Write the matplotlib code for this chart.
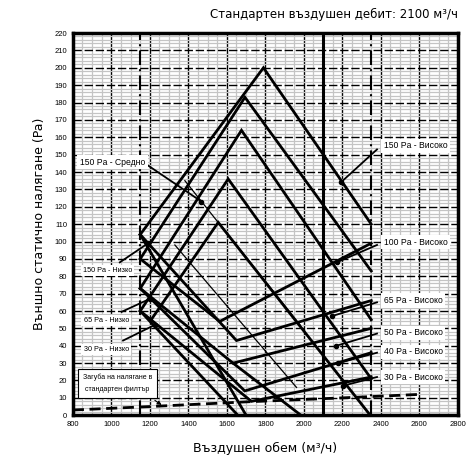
import matplotlib.pyplot as plt
from matplotlib import font_manager
from matplotlib.ticker import MultipleLocator

# airflow limits and standard airflow (m3/h)
X_MIN_FLOW = 1150
X_MAX_FLOW = 2350
X_STD_FLOW = 2100

# upper edges of the ranges (airflow, pressure)
UP_150_X = [1150, 1790, 2350]
UP_150_Y = [104, 200, 110]
UP_100_X = [1150, 1694, 2350]
UP_100_Y = [90, 183, 83]
UP_65_X = [1150, 1676, 2350]
UP_65_Y = [73, 164, 55]
UP_50_X = [1150, 1607, 2350]
UP_50_Y = [60, 136, 21]
UP_40_X = [1207, 1555, 2345]
UP_40_Y = [55, 111, 0]

# lower edges of the ranges
LOW_A_X = [1150, 1563, 2350]
LOW_A_Y = [90, 54, 99]
LOW_B_X = [1150, 1650, 2350]
LOW_B_Y = [104, 43, 66]
LOW_C_X = [1150, 1632, 2350]
LOW_C_Y = [73, 30, 50]
LOW_C2_X = [1632, 1985]
LOW_C2_Y = [30, 0]
LOW_D_X = [1150, 1693, 2350]
LOW_D_Y = [73, 14, 36]
LOW_E_X = [1150, 1728, 2350]
LOW_E_Y = [60, 8, 22]

# low tap fan curves
FAN_150_LOW_X = [1150, 1700]
FAN_150_LOW_Y = [104, 0]
FAN_30_LOW_X = [1150, 1657]
FAN_30_LOW_Y = [60, 0]

# medium tap (thin lines)
MED_1_X = [1382, 1980]
MED_1_Y = [135, 52]
MED_2_X = [1330, 1962]
MED_2_Y = [98, 16]

# pressure loss of the standard filter
FILTER_X = [800, 1200, 1700, 2200, 2600]
FILTER_Y = [3, 5, 7.7, 10, 12]

# labels: text, text position, pointer start, pointer dot
LABELS_HIGH = [
    ("150 Pa - Високо", (2415, 155), (2380, 153), (2192, 134)),
    ("100 Pa - Високо", (2415, 99.5), (2380, 98), (2171, 88)),
    ("65 Pa - Високо", (2415, 66), (2380, 65), (2144, 57)),
    ("50 Pa - Високо", (2415, 47.5), (2380, 47), (2169, 40)),
    ("40 Pa - Високо", (2415, 36.5), (2380, 36), (2178, 30)),
    ("30 Pa - Високо", (2415, 22), (2380, 22), (2204, 17)),
]
LABELS_LOW = [
    ("150 Pa - Низко", (852, 83.5), (1044, 88), (1191, 99)),
    ("65 Pa - Низко", (856, 54.7), (1053, 59.5), (1200, 67)),
    ("30 Pa - Низко", (856, 38), (1061, 43), (1226, 52)),
]
LABEL_MED = ("150 Pa - Средно", (836, 145.7), (1174, 145), (1468, 123))

names = {f.name for f in font_manager.fontManager.ttflist}
NARROW = 'Liberation Sans Narrow' if 'Liberation Sans Narrow' in names \
    else 'Liberation Sans'

fig = plt.figure(figsize=(4.73, 4.65), dpi=100)
ax = fig.add_axes([0.154, 0.107, 0.814, 0.822])

ax.set_xlim(800, 2800)
ax.set_ylim(0, 220)
ax.xaxis.set_major_locator(MultipleLocator(200))
ax.xaxis.set_minor_locator(MultipleLocator(50))
ax.yaxis.set_major_locator(MultipleLocator(10))
ax.yaxis.set_minor_locator(MultipleLocator(2))
ax.grid(which='minor', color='#c4c4c4', lw=0.9)
ax.grid(which='major', axis='x', color='black', lw=1.0)
ax.grid(which='major', axis='y', color='black', lw=1.0,
        linestyle=(0, (6, 2)))
ax.set_axisbelow(True)
ax.tick_params(which='both', length=0, labelsize=5.5, pad=4)
for lab in ax.get_xticklabels() + ax.get_yticklabels():
    lab.set_family(NARROW)
for s in ax.spines.values():
    s.set_linewidth(2.5)

ax.axvline(X_MIN_FLOW, color='black', lw=1.5, linestyle=(0, (7, 2, 1, 2)))
ax.axvline(X_MAX_FLOW, color='black', lw=1.5, linestyle=(0, (7, 2, 1, 2)))
ax.axvline(X_STD_FLOW, color='black', lw=2.2)

thick = [(UP_150_X, UP_150_Y), (UP_100_X, UP_100_Y), (UP_65_X, UP_65_Y),
         (UP_50_X, UP_50_Y), (UP_40_X, UP_40_Y),
         (LOW_A_X, LOW_A_Y), (LOW_B_X, LOW_B_Y), (LOW_C_X, LOW_C_Y),
         (LOW_C2_X, LOW_C2_Y), (LOW_D_X, LOW_D_Y), (LOW_E_X, LOW_E_Y),
         (FAN_150_LOW_X, FAN_150_LOW_Y), (FAN_30_LOW_X, FAN_30_LOW_Y)]
for xs, ys in thick:
    ax.plot(xs, ys, color='black', lw=2.0, solid_joinstyle='miter')
for xs, ys in [(MED_1_X, MED_1_Y), (MED_2_X, MED_2_Y)]:
    ax.plot(xs, ys, color='black', lw=0.9)

ax.plot(FILTER_X, FILTER_Y, color='black', lw=2.0, linestyle=(0, (4, 2)))

box = dict(boxstyle='square,pad=0.3', fc='white', ec='none')


def label(text, pos, start, dot, size, family):
    ax.plot([start[0], dot[0]], [start[1], dot[1]], color='black', lw=1.3)
    ax.plot(*dot, 'o', color='black', ms=3)
    ax.text(*pos, text, fontsize=size, va='center', ha='left', bbox=box,
            family=family)


for text, pos, start, dot in LABELS_HIGH:
    label(text, pos, start, dot, 6.2, NARROW)
for text, pos, start, dot in LABELS_LOW:
    label(text, pos, start, dot, 5.2, NARROW)
label(*LABEL_MED, 6.2, NARROW)

ax.text(1031, 18.4, "Загуба на налягане в\nстандартен филтър", fontsize=5.0,
        va='center', ha='center', family=NARROW, linespacing=1.9,
        bbox=dict(boxstyle='square,pad=0.7', fc='white', ec='black',
                  lw=0.8))
ax.annotate("", xy=(1261, 5.8), xytext=(1226, 8.6),
            arrowprops=dict(arrowstyle='-|>', lw=0.8, color='black',
                            linestyle='--', shrinkA=0, shrinkB=0,
                            mutation_scale=6))

ax.set_xlabel("Въздушен обем (м³/ч)", fontsize=9, labelpad=10)
ax.set_ylabel("Външно статично налягане (Pa)", fontsize=9, labelpad=6)
fig.text(0.968, 0.955, "Стандартен въздушен дебит: 2100 м³/ч",
         ha='right', va='bottom', fontsize=8.5)

fig.savefig("out.png", dpi=100)
